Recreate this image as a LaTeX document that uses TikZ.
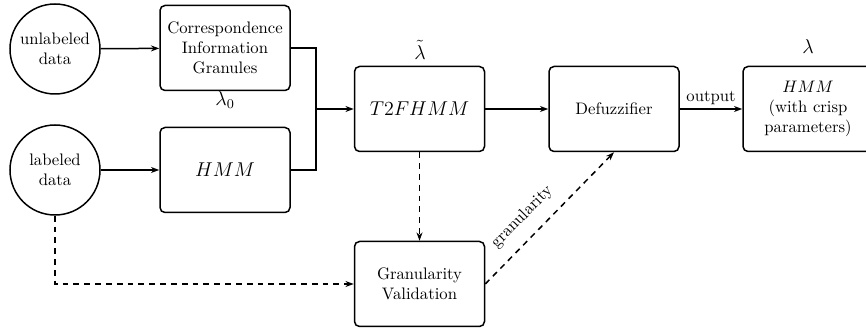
\documentclass[tikz,border=0pt]{standalone}
\usetikzlibrary{arrows.meta}
\begin{document}
\begin{tikzpicture}[x=0.6pt,y=-0.6pt,
  every node/.style={font=\normalsize},
  box/.style={draw,line width=0.9pt,rounded corners=3pt,minimum width=78pt,minimum height=51pt,align=center,inner sep=2pt},
  circ/.style={draw,line width=0.9pt,circle,minimum size=54pt,inner sep=0pt,align=center},
  arr/.style={line width=0.9pt,-{Stealth[length=5pt,width=3.6pt]}},
  conn/.style={line width=0.9pt},
  dsh/.style={dash pattern=on 3.5pt off 3pt}]
\useasboundingbox (0,0) rectangle (866,329);
\node[circ] (unl) at (55,49) {unlabeled\\data};
\node[circ] (lab) at (55,170) {labeled\\data};
\node[box] (cig) at (225,48) {Correspondence\\Information\\Granules};
\node[box] (hmm) at (225,170) {\large$HMM$};
\node[box] (t2) at (419.5,109) {\large$T2FHMM$};
\node[box] (def) at (614,109) {Defuzzifier};
\node[box] (crisp) at (808,109) {$HMM$\\(with crisp\\parameters)};
\node[box] (gv) at (419.5,284) {Granularity\\Validation};
\node (l0) at (225,100) {\large$\lambda_0$};
\node (lt) at (420,50) {\large$\tilde\lambda$};
\node (l) at (808,47) {\large$\lambda$};
\coordinate (j) at (316,109);
\draw[arr] (unl) -- (cig);
\draw[arr] (lab) -- (hmm);
\draw[conn] (cig.east) -| (j);
\draw[conn] (hmm.east) -| (j);
\draw[arr] (j) -- (t2.west);
\draw[arr] (t2) -- (def);
\draw[arr] (def) -- node[above,inner sep=2pt] (out) {output} (crisp);
\draw[arr,dsh] (t2) -- (gv);
\draw[arr,dsh] (lab.south) |- (gv.west);
\draw[arr,dsh] (gv.east) -- node[sloped,above=4pt,pos=0.4] (gr) {granularity} (def.south);
\end{tikzpicture}
\end{document}
